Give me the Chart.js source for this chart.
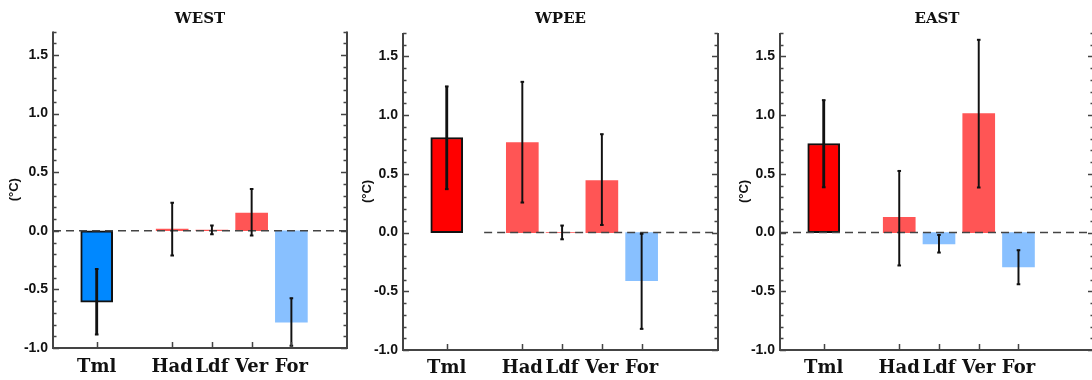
<!DOCTYPE html>
<html>
<head>
<meta charset="utf-8">
<script src="https://cdn.jsdelivr.net/npm/chart.js@4"></script>
<style>
  html, body { margin: 0; padding: 0; background: #fff; overflow: hidden; }
  body { position: relative; width: 1092px; height: 380px; }
  canvas { position: absolute; top: 0; }
</style>
</head>
<body>
<canvas id="c1"></canvas>
<canvas id="c2"></canvas>
<canvas id="c3"></canvas>
<script>
// terms of the budget, same order in every panel
const categories = ["Tml", "Had", "Ldf", "Ver", "For"];
const xPositions = [1.1, 3, 4, 5, 6];
const regions = ["WEST", "WPEE", "EAST"];
const majorTicks = [-1.0, -0.5, 0.0, 0.5, 1.0, 1.5];

const westValues = [-0.61, 0.015, 0.005, 0.15, -0.78];
const westErrLow = [-0.885, -0.21, -0.03, -0.04, -0.98];
const westErrHigh = [-0.327, 0.24, 0.046, 0.356, -0.575];

const wpeeValues = [0.81, 0.767, 0, 0.443, -0.41];
const wpeeErrLow = [0.37, 0.256, -0.057, 0.065, -0.82];
const wpeeErrHigh = [1.245, 1.284, 0.06, 0.838, -0.01];

const eastValues = [0.759, 0.13, -0.097, 1.014, -0.293];
const eastErrLow = [0.386, -0.28, -0.17, 0.384, -0.44];
const eastErrHigh = [1.128, 0.525, -0.02, 1.642, -0.15];

const INK = "#111";
const AXIS = "#444";

const panels = [
  { id: "c1", title: regions[0], values: westValues, lo: westErrLow, hi: westErrHigh,
    left: 0, axisW: 53, plotW: 296, xMax: 7.4, zeroStart: 0, titlePadBottom: 3.5, axisH: 32 },
  { id: "c2", title: regions[1], values: wpeeValues, lo: wpeeErrLow, hi: wpeeErrHigh,
    left: 353, axisW: 50, plotW: 317, xMax: 7.92, zeroStart: 2.04, titlePadBottom: 5, axisH: 30 },
  { id: "c3", title: regions[2], values: eastValues, lo: eastErrLow, hi: eastErrHigh,
    left: 730, axisW: 50, plotW: 316, xMax: 7.9, zeroStart: 0, titlePadBottom: 5, axisH: 30 },
];

const isMajor = v => Math.abs(v * 2 - Math.round(v * 2)) < 1e-6;

// axis frame with inward ticks (left, right, bottom), no top line
const framePlugin = {
  id: "frame",
  afterDatasetsDraw(chart) {
    const { ctx, chartArea: a, scales } = chart;
    ctx.save();
    ctx.strokeStyle = AXIS;
    ctx.lineWidth = 2;
    ctx.beginPath();
    ctx.moveTo(a.left, a.top); ctx.lineTo(a.left, a.bottom);
    ctx.lineTo(a.right, a.bottom); ctx.lineTo(a.right, a.top);
    ctx.stroke();
    ctx.lineWidth = 1.5;
    ctx.beginPath();
    scales.y.ticks.forEach(t => {
      const y = Math.round(scales.y.getPixelForValue(t.value)) + 0.5;
      const len = isMajor(t.value) ? 6 : 3.5;
      ctx.moveTo(a.left, y); ctx.lineTo(a.left + len, y);
      ctx.moveTo(a.right, y); ctx.lineTo(a.right - len, y);
    });
    scales.x.ticks.forEach(t => {
      const x = Math.round(scales.x.getPixelForValue(t.value)) + 0.5;
      ctx.moveTo(x, a.bottom); ctx.lineTo(x, a.bottom - 6);
    });
    ctx.stroke();
    ctx.restore();
  }
};

function errorSet(p, pick, width, order) {
  return {
    type: "bar",
    data: xPositions.map((x, i) => ({ x, y: [p.lo[i], p.hi[i]] })).filter((d, i) => pick(i)),
    backgroundColor: INK,
    barThickness: width,
    grouped: false,
    order
  };
}

function buildPanel(p) {
  const canvas = document.getElementById(p.id);
  const padRight = 4;
  canvas.width = p.axisW + p.plotW + padRight;
  canvas.height = 380;
  canvas.style.left = p.left + "px";

  const colors = p.values.map((v, i) =>
    i === 0 ? (v >= 0 ? "#ff0000" : "#0088ff") : (v >= 0 ? "#ff5555" : "#88c0ff"));
  const caps = [];
  xPositions.forEach((x, i) => {
    caps.push({ x, y: p.lo[i] });
    caps.push({ x, y: p.hi[i] });
  });

  new Chart(canvas, {
    type: "bar",
    data: {
      datasets: [
        {
          type: "bar",
          data: xPositions.map((x, i) => ({ x, y: p.values[i] })),
          backgroundColor: colors,
          borderColor: INK,
          borderWidth: p.values.map((v, i) => (i === 0 ? 2 : 0)),
          borderSkipped: false,
          barThickness: 32,
          grouped: false,
          order: 4
        },
        {
          type: "line",
          data: [{ x: p.zeroStart, y: 0 }, { x: p.xMax, y: 0 }],
          borderColor: AXIS,
          borderWidth: 1.5,
          borderDash: [8, 5],
          pointRadius: 0,
          order: 3
        },
        errorSet(p, i => i === 0, 2.2, 2),
        errorSet(p, i => i > 0, 1.3, 1),
        {
          type: "scatter",
          data: caps,
          pointStyle: "line",
          pointRadius: 1.8,
          borderColor: INK,
          borderWidth: 2,
          order: 0
        }
      ]
    },
    options: {
      responsive: false,
      animation: false,
      devicePixelRatio: 1,
      events: [],
      layout: { padding: { left: 0, right: padRight, top: 0, bottom: 0 } },
      plugins: {
        legend: { display: false },
        tooltip: { enabled: false },
        title: {
          display: true,
          text: p.title,
          fullSize: false,
          color: INK,
          font: { family: "DejaVu Serif", weight: "bold", size: 15, lineHeight: 1.2 },
          padding: { top: 10, bottom: p.titlePadBottom }
        }
      },
      scales: {
        x: {
          type: "linear",
          min: 0,
          max: p.xMax,
          offset: false,
          afterBuildTicks: s => { s.ticks = xPositions.map(v => ({ value: v })); },
          afterFit: s => { s.height = p.axisH; },
          grid: { display: false, drawTicks: false, tickLength: 0 },
          border: { display: false },
          ticks: {
            autoSkip: false,
            maxRotation: 0,
            padding: p.axisH > 30 ? 9 : 8,
            color: INK,
            font: { family: "DejaVu Serif", weight: "bold", size: 18 },
            callback: (v, i) => categories[i]
          }
        },
        y: {
          type: "linear",
          min: majorTicks[0],
          max: 1.7,
          afterFit: s => { s.width = p.axisW; },
          grid: { display: false, drawTicks: false, tickLength: 0 },
          border: { display: false },
          ticks: {
            stepSize: 0.1,
            autoSkip: false,
            padding: 5,
            color: INK,
            font: { family: "Liberation Sans", weight: "bold", size: 14 },
            callback: v => {
              if (!isMajor(v)) return "";
              return Math.abs(v) < 1e-9 ? "0.0" : v.toFixed(1);
            }
          },
          title: {
            display: true,
            text: "(°C)",
            color: INK,
            font: { family: "Liberation Sans", weight: "bold", size: 13 },
            padding: { top: 7, bottom: 0 }
          }
        }
      }
    },
    plugins: [framePlugin]
  });
}

panels.forEach(buildPanel);
</script>
</body>
</html>
